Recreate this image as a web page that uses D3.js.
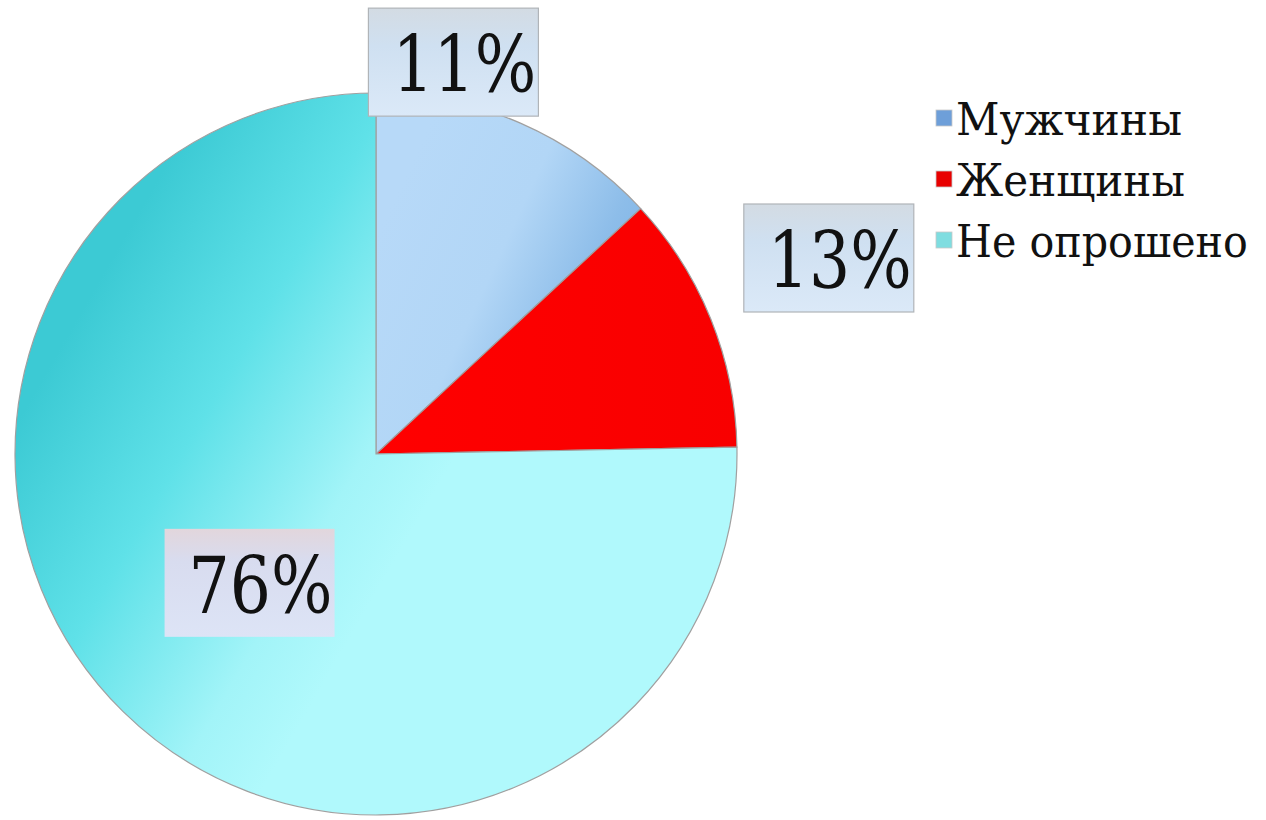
<!DOCTYPE html>
<html><head><meta charset="utf-8">
<script src="https://cdn.jsdelivr.net/npm/d3@7"></script>
<style>body{margin:0;background:#fff} text{font-family:'DejaVu Serif',serif;}</style>
</head><body><svg id="c" width="1266" height="820"></svg>
<script>
const categories = ["Мужчины", "Женщины", "Не опрошено"];
const sliceShares = [13.1, 11.6, 75.3];
const labelTexts = ["11%", "13%", "76%"];
const legendColors = ["#6e9fd9", "#e80000", "#7fdde0"];

const cx = 376, cy = 454, R = 361;
const svg = d3.select("#c");
const defs = svg.append("defs");

const gBlue = defs.append("linearGradient").attr("id","gBlue").attr("gradientUnits","userSpaceOnUse")
  .attr("x1", 0).attr("y1", -R*0.6).attr("x2", R*0.75).attr("y2", -R*0.25);
[[0,"#b7d9f8"],[0.4,"#b2d6f6"],[0.7,"#8dbde9"],[1,"#72aee6"]].forEach(([o,c])=>gBlue.append("stop").attr("offset",o).attr("stop-color",c));
const gRed = defs.append("linearGradient").attr("id","gRed");
[[0,"#ff0000"],[1,"#f80000"]].forEach(([o,c])=>gRed.append("stop").attr("offset",o).attr("stop-color",c));
const gCyan = defs.append("linearGradient").attr("id","gCyan").attr("gradientUnits","userSpaceOnUse")
  .attr("x1", -R*0.9).attr("y1", -R*0.25).attr("x2", R*0.05).attr("y2", R*0.3);
[[0,"#3ccad4"],[0.4,"#5fe1e8"],[0.8,"#a2f4f8"],[1,"#b0f9fc"]].forEach(([o,c])=>gCyan.append("stop").attr("offset",o).attr("stop-color",c));
const fills = ["url(#gBlue)","url(#gRed)","url(#gCyan)"];

const gBox = defs.append("linearGradient").attr("id","gBox").attr("x1",0).attr("y1",0).attr("x2",0).attr("y2",1);
[[0,"#d3dbe3"],[0.35,"#cfe0f1"],[1,"#dbe9f8"]].forEach(([o,c])=>gBox.append("stop").attr("offset",o).attr("stop-color",c));
const gBox2 = defs.append("linearGradient").attr("id","gBox2").attr("x1",0).attr("y1",0).attr("x2",0).attr("y2",1);
[[0,"#e2d6dc"],[0.3,"#d8dcef"],[1,"#dde4f6"]].forEach(([o,c])=>gBox2.append("stop").attr("offset",o).attr("stop-color",c));
const boxFills = ["url(#gBox)","url(#gBox)","url(#gBox2)"];
const boxStrokes = ["#b0b4b8","#b0b4b8","none"];

// draws text at (x, y) squeezed horizontally to the target width
function fitText(parent, str, x, y, size, targetW) {
  const tg = parent.append("g");
  const t = tg.append("text").text(str).attr("font-size", size).attr("fill", "#111");
  const w = t.node().getComputedTextLength();
  tg.attr("transform", `translate(${x},${y}) scale(${targetW / w},1)`);
  return tg;
}

const pie = d3.pie().sort(null).value(d => d);
const arcs = pie(sliceShares);
const arc = d3.arc().innerRadius(0).outerRadius(R);

const g = svg.append("g").attr("transform", `translate(${cx},${cy})`);
g.selectAll("path").data(arcs).join("path")
  .attr("d", arc)
  .attr("fill", (d,i) => fills[i])
  .attr("stroke", "#a0a0a0")
  .attr("stroke-width", 1.2);

const labelArc = d3.arc().innerRadius(R).outerRadius(R);
const innerLabelArc = d3.arc().innerRadius(R*0.5).outerRadius(R*0.5);
const labelOffsets = [[-67,-61],[118,-61],[0,0]];
const fontSize = 78, labelTextW = 144;
arcs.forEach((a, i) => {
  const p = i < 2 ? labelArc.centroid(a) : innerLabelArc.centroid(a);
  const lx = p[0] + labelOffsets[i][0], ly = p[1] + labelOffsets[i][1];
  const lg = g.append("g");
  const bw = labelTextW + 26, bh = 108;
  const bx = lx - bw/2, by = ly - bh/2;
  lg.append("rect").attr("x", bx).attr("y", by).attr("width", bw).attr("height", bh)
    .attr("fill", boxFills[i]).attr("stroke", boxStrokes[i]).attr("stroke-width", 1.2);
  fitText(lg, labelTexts[i], bx + 24, by + 84, fontSize, labelTextW);
});

const lgX = 936, lgY0 = 135, lgStep = 61;
const legendTextW = [226, 229, 292];
const leg = svg.append("g");
categories.forEach((c, i) => {
  const y = lgY0 + i*lgStep;
  leg.append("rect").attr("x", lgX).attr("y", y - 25).attr("width", 16).attr("height", 16)
    .attr("fill", legendColors[i]).attr("stroke", "#c8c8c8").attr("stroke-width", 0.8);
  fitText(leg, c, lgX + 20, y, 45, legendTextW[i]);
});
</script></body></html>
